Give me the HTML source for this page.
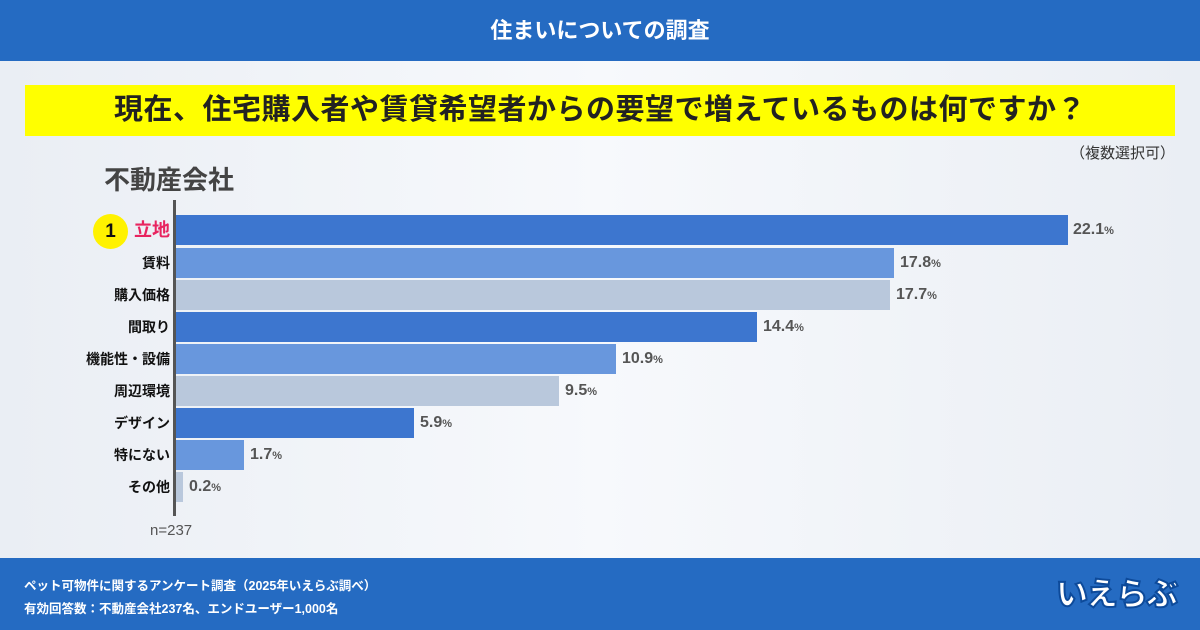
<!DOCTYPE html>
<html><head><meta charset="utf-8"><style>
*{margin:0;padding:0;box-sizing:border-box}
body{width:1200px;height:630px;overflow:hidden;background:linear-gradient(90deg,#eaeef4,#f7f9fc 50%,#eaeef4);font-family:"Liberation Sans","Noto Sans CJK JP",sans-serif;position:relative}
.hdr{position:absolute;left:0;top:0;width:1200px;height:61px;background:#256bc2;color:#fff;font-weight:bold;font-size:22px;text-align:center;line-height:61px}
.q{position:absolute;left:25px;top:85px;width:1150px;height:51px;background:#ffff00;color:#222;font-weight:bold;font-size:29px;text-align:center;line-height:51px;letter-spacing:0.5px}
.multi{position:absolute;right:25px;top:142px;font-size:15px;color:#333}
.cat{position:absolute;left:104px;top:160px;font-size:26px;font-weight:bold;color:#444}
.axis{position:absolute;left:173px;top:200px;width:3px;height:316px;background:#555}
.bar{position:absolute;left:176px;height:30px}
.lab{position:absolute;right:1030px;font-size:14px;font-weight:bold;color:#111;line-height:30px;white-space:nowrap}
.val{position:absolute;font-size:16px;font-weight:bold;color:#555;line-height:30px}
.val small{font-size:11px}
.n{position:absolute;left:150px;top:522px;font-size:15px;color:#555}
.ftr{position:absolute;left:0;top:558px;width:1200px;height:72px;background:#256bc2;color:#fff;font-size:12.5px;font-weight:bold}
.logo{position:absolute;right:24px;top:16px;font-size:32px;font-weight:900;color:#fff;-webkit-text-stroke:2px #0d4a9a;letter-spacing:-2px;line-height:40px}
</style></head><body>
<div class="hdr">住まいについての調査</div>
<div class="q">現在、住宅購入者や賃貸希望者からの要望で増えているものは何ですか？</div>
<div class="multi">（複数選択可）</div>
<div class="cat">不動産会社</div>
<div class="axis"></div>

<div style="position:absolute;left:93px;top:214px;width:35px;height:35px;border-radius:50%;background:#fff200;font-weight:bold;font-size:19px;text-align:center;line-height:35px;color:#111">1</div>
<div class="lab" style="top:215px;color:#e8245f;font-size:18px">立地</div>
<div class="bar" style="top:215px;width:892px;background:#3d76cf"></div>
<div class="val" style="top:215px;left:1073px">22.1<small>%</small></div>

<div class="lab" style="top:248px">賃料</div>
<div class="bar" style="top:248px;width:718px;background:#6897dd"></div>
<div class="val" style="top:248px;left:900px">17.8<small>%</small></div>

<div class="lab" style="top:280px">購入価格</div>
<div class="bar" style="top:280px;width:714px;background:#b9c8dc"></div>
<div class="val" style="top:280px;left:896px">17.7<small>%</small></div>

<div class="lab" style="top:312px">間取り</div>
<div class="bar" style="top:312px;width:581px;background:#3d76cf"></div>
<div class="val" style="top:312px;left:763px">14.4<small>%</small></div>

<div class="lab" style="top:344px">機能性・設備</div>
<div class="bar" style="top:344px;width:440px;background:#6897dd"></div>
<div class="val" style="top:344px;left:622px">10.9<small>%</small></div>

<div class="lab" style="top:376px">周辺環境</div>
<div class="bar" style="top:376px;width:383px;background:#b9c8dc"></div>
<div class="val" style="top:376px;left:565px">9.5<small>%</small></div>

<div class="lab" style="top:408px">デザイン</div>
<div class="bar" style="top:408px;width:238px;background:#3d76cf"></div>
<div class="val" style="top:408px;left:420px">5.9<small>%</small></div>

<div class="lab" style="top:440px">特にない</div>
<div class="bar" style="top:440px;width:68px;background:#6897dd"></div>
<div class="val" style="top:440px;left:250px">1.7<small>%</small></div>

<div class="lab" style="top:472px">その他</div>
<div class="bar" style="top:472px;width:7px;background:#b9c8dc"></div>
<div class="val" style="top:472px;left:189px">0.2<small>%</small></div>

<div class="n">n=237</div>
<div class="ftr">
<div style="position:absolute;left:24px;top:17px">ペット可物件に関するアンケート調査（2025年いえらぶ調べ）</div>
<div style="position:absolute;left:24px;top:40px">有効回答数：不動産会社237名、エンドユーザー1,000名</div>
<div class="logo">いえらぶ</div>
</div>
</body></html>
